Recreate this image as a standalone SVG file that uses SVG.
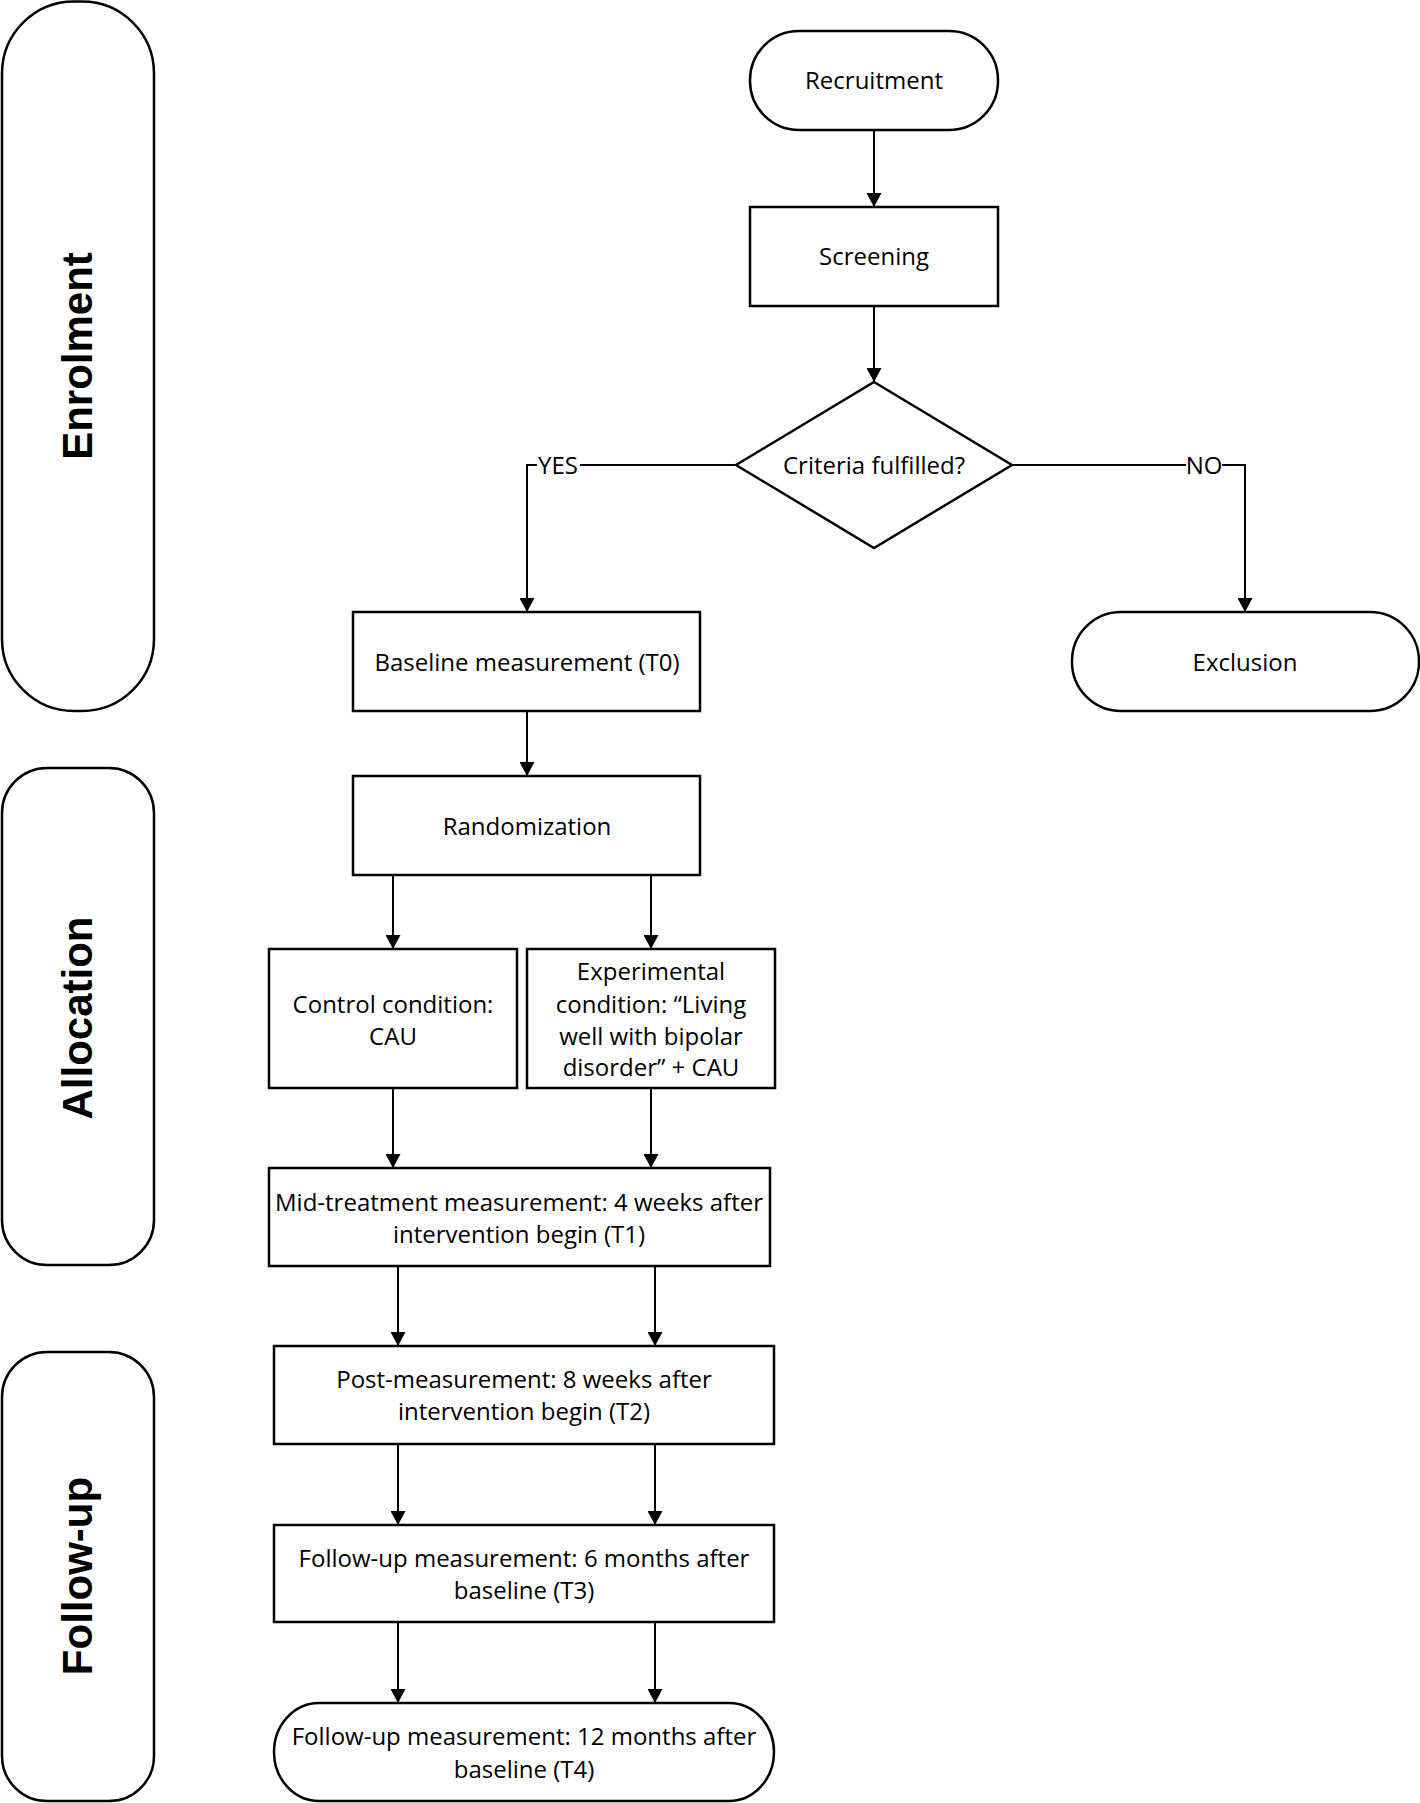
<svg xmlns="http://www.w3.org/2000/svg" width="1420" height="1803" viewBox="0 0 1420 1803">
<style>
.shape{fill:#fff;stroke:#000;stroke-width:2.5}
.lane{fill:#fff;stroke:#000;stroke-width:2.5}
.t{font-family:"Open Sans","Liberation Sans",sans-serif;font-size:24px;fill:#000;text-anchor:middle}
.lt{font-family:"Liberation Sans",Arial,sans-serif;font-size:42px;font-weight:bold;fill:#000;text-anchor:middle;dominant-baseline:central}
.c{fill:none;stroke:#000;stroke-width:2}
</style>
<defs>
<marker id="ah" markerUnits="userSpaceOnUse" markerWidth="15" markerHeight="15" refX="14" refY="7.5" orient="auto">
<path d="M0,0 L14,7.5 L0,15 z" fill="#000"/>
</marker>
</defs>
<rect width="1420" height="1803" fill="#fff"/>

<g id="lane-enrolment">
<rect class="lane" x="2" y="1.5" width="152" height="709.5" rx="72" ry="72"/>
<text class="lt" transform="translate(77,356) rotate(-90)">Enrolment</text>
</g>
<g id="lane-allocation">
<rect class="lane" x="2" y="768" width="152" height="497" rx="45" ry="45"/>
<text class="lt" transform="translate(77,1018) rotate(-90)">Allocation</text>
</g>
<g id="lane-followup">
<rect class="lane" x="2" y="1352" width="152" height="449" rx="45" ry="45"/>
<text class="lt" transform="translate(77,1576) rotate(-90)">Follow-up</text>
</g>

<g id="connectors">
<line class="c" x1="874" y1="130" x2="874" y2="207" marker-end="url(#ah)"/>
<line class="c" x1="874" y1="306" x2="874" y2="382" marker-end="url(#ah)"/>
<polyline class="c" points="736,465 580,465"/>
<polyline class="c" points="537,465 527,465 527,612" marker-end="url(#ah)"/>
<polyline class="c" points="1012,465 1186,465"/>
<polyline class="c" points="1222,465 1245,465 1245,612" marker-end="url(#ah)"/>
<line class="c" x1="527" y1="711" x2="527" y2="776" marker-end="url(#ah)"/>
<line class="c" x1="393" y1="875" x2="393" y2="949" marker-end="url(#ah)"/>
<line class="c" x1="651" y1="875" x2="651" y2="949" marker-end="url(#ah)"/>
<line class="c" x1="393" y1="1088" x2="393" y2="1168" marker-end="url(#ah)"/>
<line class="c" x1="651" y1="1088" x2="651" y2="1168" marker-end="url(#ah)"/>
<line class="c" x1="398" y1="1266" x2="398" y2="1346" marker-end="url(#ah)"/>
<line class="c" x1="655" y1="1266" x2="655" y2="1346" marker-end="url(#ah)"/>
<line class="c" x1="398" y1="1444" x2="398" y2="1525" marker-end="url(#ah)"/>
<line class="c" x1="655" y1="1444" x2="655" y2="1525" marker-end="url(#ah)"/>
<line class="c" x1="398" y1="1622" x2="398" y2="1703" marker-end="url(#ah)"/>
<line class="c" x1="655" y1="1622" x2="655" y2="1703" marker-end="url(#ah)"/>
<text class="t" x="558" y="474">YES</text>
<text class="t" x="1204" y="474">NO</text>
</g>

<g id="recruitment">
<rect class="shape" x="750" y="31" width="248" height="99" rx="49" ry="49"/>
<text class="t" x="874" y="89">Recruitment</text>
</g>
<g id="screening">
<rect class="shape" x="750" y="207" width="248" height="99"/>
<text class="t" x="874" y="265">Screening</text>
</g>
<g id="criteria">
<polygon class="shape" points="874,382 1012,465 874,548 736,465"/>
<text class="t" x="874" y="474">Criteria fulfilled?</text>
</g>
<g id="exclusion">
<rect class="shape" x="1072" y="612" width="347" height="99" rx="49" ry="49"/>
<text class="t" x="1245" y="671">Exclusion</text>
</g>
<g id="baseline">
<rect class="shape" x="353" y="612" width="347" height="99"/>
<text class="t" x="527" y="671">Baseline measurement (T0)</text>
</g>
<g id="randomization">
<rect class="shape" x="353" y="776" width="347" height="99"/>
<text class="t" x="527" y="835">Randomization</text>
</g>
<g id="control">
<rect class="shape" x="269" y="949" width="248" height="139"/>
<text class="t" x="393" y="1013">Control condition:</text>
<text class="t" x="393" y="1045">CAU</text>
</g>
<g id="experimental">
<rect class="shape" x="527" y="949" width="248" height="139"/>
<text class="t" x="651" y="980">Experimental</text>
<text class="t" x="651" y="1013">condition: “Living</text>
<text class="t" x="651" y="1045">well with bipolar</text>
<text class="t" x="651" y="1076">disorder” + CAU</text>
</g>
<g id="t1">
<rect class="shape" x="269" y="1168" width="501" height="98"/>
<text class="t" x="519" y="1211">Mid-treatment measurement: 4 weeks after</text>
<text class="t" x="519" y="1243">intervention begin (T1)</text>
</g>
<g id="t2">
<rect class="shape" x="274" y="1346" width="500" height="98"/>
<text class="t" x="524" y="1388">Post-measurement: 8 weeks after</text>
<text class="t" x="524" y="1420">intervention begin (T2)</text>
</g>
<g id="t3">
<rect class="shape" x="274" y="1525" width="500" height="97"/>
<text class="t" x="524" y="1567">Follow-up measurement: 6 months after</text>
<text class="t" x="524" y="1599">baseline (T3)</text>
</g>
<g id="t4">
<rect class="shape" x="274" y="1703" width="500" height="98" rx="45" ry="49"/>
<text class="t" x="524" y="1745">Follow-up measurement: 12 months after</text>
<text class="t" x="524" y="1778">baseline (T4)</text>
</g>
</svg>
